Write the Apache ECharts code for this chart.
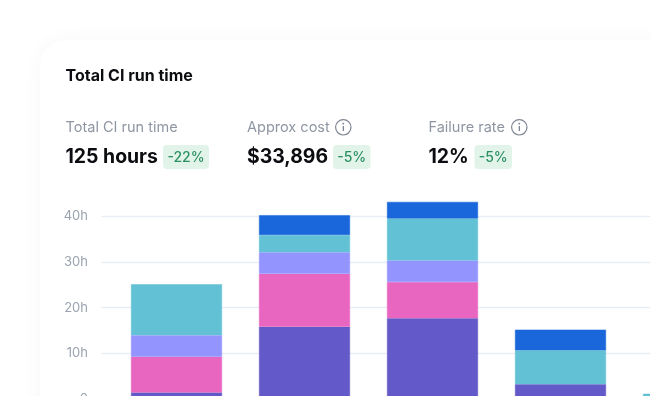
<!DOCTYPE html>
<html>
<head>
<meta charset="utf-8">
<script src="https://cdn.jsdelivr.net/npm/echarts@6/dist/echarts.min.js"></script>
<style>
html,body{margin:0;padding:0;background:#fff;overflow:hidden;width:650px;height:396px}
#main{width:800px;height:430px}
</style>
</head>
<body>
<div id="main"></div>
<script>
// 数据
var weeks = ['1', '2', '3', '4', '5'];
var yTicks = { 0: '0', 10: '10h', 20: '20h', 30: '30h', 40: '40h' };
var purple = [1.5, 15.85, 17.7, 3.3, null];
var pink = [7.8, 11.55, 7.9, null, null];
var periwinkle = [4.7, 4.7, 4.7, null, null];
var teal = [11.1, 3.8, 9.2, 7.4, 1.2];
var blue = [null, 4.3, 3.6, 4.5, null];

var titleText = 'Total CI run time';
var statLabels = ['Total CI run time', 'Approx cost', 'Failure rate'];
var statValues = ['125 hours', '$33,896', '12%'];
var statDeltas = ['-22%', '-5%', '-5%'];

var fontUi = 'Inter, "Noto Sans", sans-serif';

function bar(name, arr, color) {
    return {
        name: name,
        type: 'bar',
        stack: 'total',
        barWidth: 91,
        xAxisIndex: 0,
        yAxisIndex: 0,
        itemStyle: { color: color, borderColor: color, borderWidth: 0.5 },
        data: arr
    };
}
function label(x, y, text, size, weight, color) {
    return {
        type: 'text', x: x, y: y, silent: true,
        style: { text: text, fill: color, font: weight + ' ' + size + 'px ' + fontUi, textVerticalAlign: 'middle' }
    };
}
function badge(x, w, text) {
    return [{
        type: 'rect', x: x, y: 145, silent: true,
        shape: { width: w, height: 24, r: 4 },
        style: { fill: '#e2f3ea' }
    }, {
        type: 'text', x: x + w / 2, y: 157.5, silent: true,
        style: { text: text, fill: '#2b9161', font: '500 14px ' + fontUi, textAlign: 'center', textVerticalAlign: 'middle' }
    }];
}
function infoIcon(cx) {
    var c = '#7d8492';
    return [{
        type: 'circle', x: cx, y: 127.3, silent: true,
        shape: { r: 7.7 },
        style: { fill: 'none', stroke: c, lineWidth: 1.2 }
    }, {
        type: 'rect', x: cx - 0.6, y: 126, silent: true,
        shape: { width: 1.3, height: 5 },
        style: { fill: c }
    }, {
        type: 'circle', x: cx, y: 123.7, silent: true,
        shape: { r: 0.9 },
        style: { fill: c }
    }];
}

var graphics = [{
    type: 'rect', x: 40, y: 40, z: -10, silent: true,
    shape: { width: 800, height: 500, r: 26 },
    style: { fill: '#fff', shadowBlur: 22, shadowColor: 'rgba(40,50,90,0.035)', shadowOffsetX: 0, shadowOffsetY: 0 }
},
    label(65.5, 76, titleText, 16, 700, '#0c0d10'),
    label(65.5, 127.5, statLabels[0], 14.5, 400, '#8f96a3'),
    label(247, 127.5, statLabels[1], 14.5, 400, '#8f96a3'),
    label(428.5, 127.5, statLabels[2], 14.5, 400, '#8f96a3'),
    label(65.5, 157, statValues[0], 19.4, 700, '#0c0d10'),
    label(247, 157, statValues[1], 19.4, 700, '#0c0d10'),
    label(428.5, 157, statValues[2], 19.4, 700, '#0c0d10')
].concat(badge(163, 46, statDeltas[0]), badge(333, 37.5, statDeltas[1]), badge(474.5, 37.5, statDeltas[2]),
    infoIcon(343.3), infoIcon(519.3));

var myChart = echarts.init(document.getElementById('main'), null, { renderer: 'canvas' });
var option = {
    backgroundColor: '#fff',
    animation: false,
    graphic: { elements: graphics },
    // 第一个grid放柱子，第二个grid放网格线和刻度
    grid: [
        { left: 112.5, top: 170.3, width: 640, height: 229 },
        { left: 101.5, top: 170.3, width: 650, height: 229 }
    ],
    xAxis: [
        { type: 'category', gridIndex: 0, data: weeks, show: false },
        { type: 'value', gridIndex: 1, show: false, min: 0, max: 1 }
    ],
    yAxis: [
        { type: 'value', gridIndex: 0, min: 0, max: 50, show: false },
        {
            type: 'value',
            gridIndex: 1,
            min: 0,
            max: 50,
            interval: 10,
            axisLine: { show: false },
            axisTick: { show: false },
            axisLabel: {
                margin: 13.5,
                showMaxLabel: false,
                color: '#9aa3af',
                fontFamily: 'Inter',
                fontSize: 13,
                formatter: function (v) { return yTicks[v]; }
            },
            splitLine: { showMaxLine: false, lineStyle: { color: '#e8edf6', width: 1.4 } }
        }
    ],
    series: [
        bar('Purple', purple, '#6459c9'),
        bar('Pink', pink, '#e866bf'),
        bar('Periwinkle', periwinkle, '#9494ff'),
        bar('Teal', teal, '#63c1d6'),
        bar('Blue', blue, '#1a66db')
    ]
};
myChart.setOption(option);
</script>
</body>
</html>
